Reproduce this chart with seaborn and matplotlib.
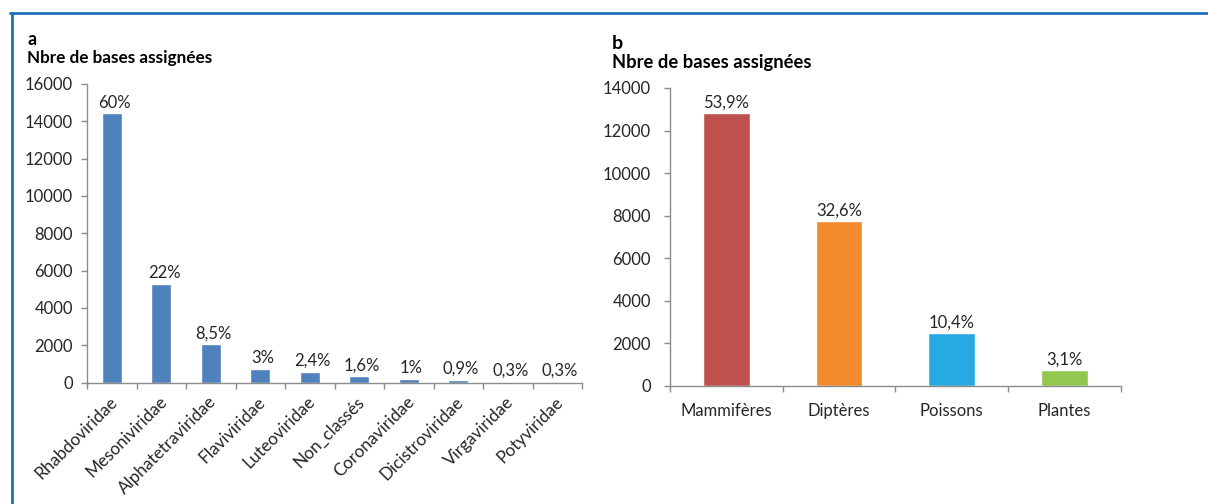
import numpy as np
import pandas as pd
import matplotlib
matplotlib.use("Agg")
import matplotlib.pyplot as plt
import matplotlib.transforms as mtransforms
from matplotlib.lines import Line2D
import seaborn as sns

# Panel a: viral families
familles = ["Rhabdoviridae", "Mesoniviridae", "Alphatetraviridae", "Flaviviridae",
            "Luteoviridae", "Non_classés", "Coronaviridae", "Dicistroviridae",
            "Virgaviridae", "Potyviridae"]
bases_a = [14430, 5290, 2040, 720, 570, 350, 180, 160, 40, 40]
pct_a = ["60%", "22%", "8,5%", "3%", "2,4%", "1,6%", "1%", "0,9%", "0,3%", "0,3%"]

# Panel b: host groups
hotes = ["Mammifères", "Diptères", "Poissons", "Plantes"]
bases_b = [12810, 7750, 2470, 740]
pct_b = ["53,9%", "32,6%", "10,4%", "3,1%"]
couleurs_b = ["#C0504D", "#F38A2E", "#27AAE1", "#92C850"]

sns.set_theme(style="white")
plt.rcParams["font.family"] = ["Lato", "DejaVu Sans"]

TXT = "#262626"
AXC = "#8C8C8C"
FS = 12

W, H = 1208, 504
fig = plt.figure(figsize=(W / 100, H / 100), dpi=100)
fig.patch.set_facecolor("white")


def px_axes(left, right, top, bottom):
    return fig.add_axes([left / W, 1 - bottom / H, (right - left) / W, (bottom - top) / H])


ax_a = px_axes(87, 582, 84, 382.5)
ax_b = px_axes(670, 1120.7, 88, 386)

df_a = pd.DataFrame({"famille": familles, "bases": bases_a})
df_b = pd.DataFrame({"hote": hotes, "bases": bases_b})

sns.barplot(data=df_a, x="famille", y="bases", color="#4F81BD", width=0.40,
            saturation=1, ax=ax_a)
sns.barplot(data=df_b, x="hote", y="bases", hue="hote", palette=couleurs_b,
            width=0.414, saturation=1, legend=False, ax=ax_b)


def style_axis(ax, n, ymax, step, xpad, ypad):
    ax.set_xlim(-0.5, n - 0.5)
    ax.set_ylim(0, ymax)
    ax.set_yticks(np.arange(0, ymax + 1, step))
    ax.set_yticklabels([f"{int(v)}" for v in np.arange(0, ymax + 1, step)])
    ax.set_xlabel("")
    ax.set_ylabel("")
    for s in ["top", "right"]:
        ax.spines[s].set_visible(False)
    for s in ["left", "bottom"]:
        ax.spines[s].set_color(AXC)
        ax.spines[s].set_linewidth(1.0)
    ax.set_xticks(np.arange(-0.5, n, 1), minor=True)
    ax.tick_params(axis="x", which="minor", length=4.5, width=1, color=AXC,
                   direction="out", bottom=True)
    ax.tick_params(axis="x", which="major", length=0, pad=xpad, labelsize=FS,
                   labelcolor=TXT)
    ax.tick_params(axis="y", which="major", length=4.3, width=1, color=AXC,
                   direction="out", left=True, pad=ypad, labelsize=FS,
                   labelcolor=TXT)
    ax.grid(False)


style_axis(ax_a, len(familles), 16000, 2000, 8, 5.8)
style_axis(ax_b, len(hotes), 14000, 2000, 12, 9.4)

shift = mtransforms.ScaledTranslation(-2 / 72, 0, fig.dpi_scale_trans)
for lab in ax_a.get_xticklabels():
    lab.set_rotation(45)
    lab.set_ha("right")
    lab.set_rotation_mode("anchor")
    lab.set_fontsize(12.4)
    lab.set_transform(lab.get_transform() + shift)

for i, (v, t) in enumerate(zip(bases_a, pct_a)):
    ax_a.annotate(t, (i, v), xytext=(2, 2), textcoords="offset points",
                  ha="center", va="bottom", fontsize=FS, color=TXT)
for i, (v, t) in enumerate(zip(bases_b, pct_b)):
    ax_b.annotate(t, (i, v), xytext=(0, 2), textcoords="offset points",
                  ha="center", va="bottom", fontsize=FS, color=TXT)

# panel letters and y-axis titles
fig.text(27 / W, 1 - 45 / H, "a", fontsize=13, fontweight="bold", color="black")
fig.text(27 / W, 1 - 63 / H, "Nbre de bases assignées", fontsize=12.3,
         fontweight="bold", color="black")
fig.text(612 / W, 1 - 49 / H, "b", fontsize=14, fontweight="bold", color="black")
fig.text(612 / W, 1 - 68 / H, "Nbre de bases assignées", fontsize=13.2,
         fontweight="bold", color="black")

# blue frame on the top and left
frame = "#1F6FBF"
fig.add_artist(Line2D([10 / W, 1], [1 - 13 / H, 1 - 13 / H],
                      transform=fig.transFigure, color=frame, lw=2))
fig.add_artist(Line2D([12 / W, 12 / W], [0, 1 - 13 / H],
                      transform=fig.transFigure, color=frame, lw=2))

fig.savefig("out.png", dpi=100, facecolor="white")
